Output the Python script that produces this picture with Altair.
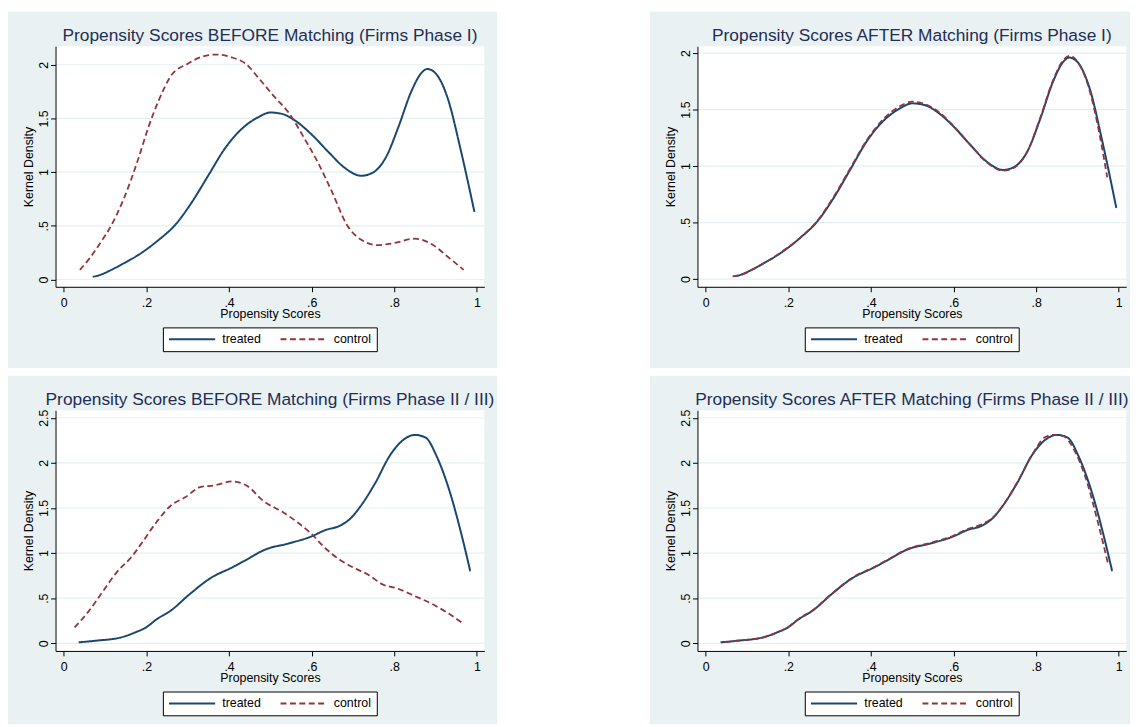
import altair as alt
import pandas as pd

# ---------------- data ----------------
groups = ["treated", "control"]

# Phase I - treated firms (same curve in both Phase I panels)
p1_treated_x = [0.070, 0.09, 0.11, 0.145, 0.185, 0.23, 0.27, 0.31, 0.35, 0.39, 0.43, 0.47, 0.50,
                0.53, 0.56, 0.60, 0.64, 0.68, 0.72, 0.75, 0.78, 0.81, 0.84, 0.865, 0.88, 0.90,
                0.93, 0.96, 0.994]
p1_treated_y = [0.025, 0.045, 0.08, 0.15, 0.24, 0.37, 0.51, 0.72, 0.97, 1.22, 1.40, 1.51, 1.555,
                1.54, 1.48, 1.35, 1.19, 1.04, 0.966, 1.0, 1.14, 1.42, 1.74, 1.92, 1.96, 1.92,
                1.68, 1.22, 0.63]

# Phase I - control firms before matching
p1_ctrl_before_x = [0.039, 0.065, 0.09, 0.11, 0.145, 0.18, 0.205, 0.23, 0.26, 0.30, 0.335, 0.37,
                    0.405, 0.44, 0.475, 0.51, 0.545, 0.58, 0.615, 0.65, 0.685, 0.72, 0.76, 0.80,
                    0.85, 0.89, 0.93, 0.968]
p1_ctrl_before_y = [0.09, 0.21, 0.35, 0.47, 0.75, 1.12, 1.42, 1.67, 1.90, 2.01, 2.075, 2.095,
                    2.07, 2.01, 1.86, 1.70, 1.55, 1.33, 1.09, 0.81, 0.51, 0.37, 0.32, 0.34,
                    0.38, 0.33, 0.21, 0.09]

# Phase I - control firms after matching
p1_ctrl_after_x = [0.065, 0.09, 0.11, 0.145, 0.185, 0.23, 0.27, 0.31, 0.35, 0.39, 0.43, 0.47, 0.50,
                   0.53, 0.56, 0.60, 0.64, 0.68, 0.72, 0.75, 0.78, 0.81, 0.84, 0.865, 0.88, 0.90,
                   0.93, 0.955, 0.972]
p1_ctrl_after_y = [0.025, 0.045, 0.08, 0.15, 0.245, 0.37, 0.515, 0.73, 0.98, 1.23, 1.415, 1.53, 1.57,
                   1.55, 1.49, 1.355, 1.19, 1.035, 0.96, 0.995, 1.14, 1.43, 1.75, 1.935, 1.975, 1.925,
                   1.66, 1.25, 0.90]

# Phase II / III - treated firms
p2_treated_x = [0.036, 0.078, 0.139, 0.173, 0.199, 0.225, 0.26, 0.304, 0.356, 0.408, 0.442, 0.486,
                0.546, 0.598, 0.633, 0.668, 0.694, 0.72, 0.755, 0.789, 0.824, 0.85, 0.876, 0.902,
                0.937, 0.963, 0.984]
p2_treated_y = [0.011, 0.029, 0.066, 0.121, 0.176, 0.267, 0.366, 0.542, 0.725, 0.842, 0.926, 1.036,
                1.109, 1.182, 1.255, 1.303, 1.384, 1.53, 1.786, 2.079, 2.262, 2.31, 2.28, 2.079,
                1.64, 1.2, 0.798]

# Phase II / III - control firms before matching
p2_ctrl_before_x = [0.026, 0.061, 0.095, 0.13, 0.165, 0.191, 0.225, 0.26, 0.295, 0.33, 0.364, 0.408,
                    0.442, 0.486, 0.529, 0.564, 0.598, 0.633, 0.668, 0.703, 0.737, 0.772, 0.807,
                    0.85, 0.893, 0.928, 0.963]
p2_ctrl_before_y = [0.176, 0.359, 0.578, 0.798, 0.963, 1.127, 1.347, 1.53, 1.622, 1.731, 1.75, 1.794,
                    1.75, 1.567, 1.457, 1.347, 1.219, 1.054, 0.926, 0.835, 0.761, 0.652, 0.608,
                    0.523, 0.432, 0.34, 0.231]

# Phase II / III - control firms after matching
p2_ctrl_after_x = [0.045, 0.078, 0.139, 0.173, 0.199, 0.225, 0.26, 0.304, 0.356, 0.408, 0.442, 0.486,
                   0.546, 0.598, 0.633, 0.668, 0.694, 0.72, 0.755, 0.789, 0.82, 0.84, 0.865, 0.89,
                   0.92, 0.95, 0.975]
p2_ctrl_after_y = [0.012, 0.03, 0.066, 0.12, 0.178, 0.27, 0.37, 0.545, 0.73, 0.845, 0.93, 1.04,
                   1.115, 1.19, 1.265, 1.32, 1.39, 1.53, 1.79, 2.08, 2.28, 2.31, 2.30, 2.16,
                   1.83, 1.33, 0.86]

titles = [
    "Propensity Scores BEFORE Matching (Firms Phase I)",
    "Propensity Scores AFTER Matching (Firms Phase I)",
    "Propensity Scores BEFORE Matching (Firms Phase II / III)",
    "Propensity Scores AFTER Matching (Firms Phase II / III)",
]
x_ticks = [0, 0.2, 0.4, 0.6, 0.8, 1]
y_ticks_p1 = [0, 0.5, 1, 1.5, 2]
y_ticks_p2 = [0, 0.5, 1, 1.5, 2, 2.5]

# ---------------- styling ----------------
W, H = 433, 243
BG = "#E9F1F2"
GRID = "#E6EFF1"
NAVY = "#1A476F"
MAROON = "#90353B"
TITLE_C = "#1F2E55"
FONT = "Liberation Sans"
FS = 12.5

LBL = ("datum.value == 0 ? '0' : (datum.value < 1 ? "
       "substring(format(datum.value, '.1f'), 1) : format(datum.value, '~g'))")


def panel(title, tx, ty, cx, cy, ydom, yticks, right=False, bottom=False):
    df = pd.DataFrame(
        {"score": list(tx) + list(cx),
         "dens": list(ty) + list(cy),
         "group": ["treated"] * len(tx) + ["control"] * len(cx)}
    )
    one = pd.DataFrame({"k": [0]})
    xs = alt.Scale(domain=[-0.02, 1.018], nice=False, zero=False)
    ys = alt.Scale(domain=ydom, nice=False, zero=False)

    xaxis = alt.Axis(values=x_ticks, labelExpr=LBL, title="Propensity Scores",
                     tickSize=5, tickColor="black", domainColor="black",
                     labelFont=FONT, labelFontSize=FS, labelColor="black",
                     labelPadding=11, labelBaseline="middle", labelFlush=False,
                     labelOverlap=False, titleFont=FONT, titleFontSize=FS,
                     titleFontWeight="normal", titleColor="black",
                     titleX=W / 2, titleY=27.3, titleBaseline="middle",
                     titleAlign="center", grid=False, zindex=1)
    yaxis = alt.Axis(values=yticks, labelExpr=LBL, title="Kernel Density",
                     tickSize=5, tickColor="black", domainColor="black",
                     labelFont=FONT, labelFontSize=FS, labelColor="black",
                     labelAngle=270, labelAlign="center", labelBaseline="middle",
                     labelPadding=7, labelFlush=False, labelOverlap=False,
                     titleFont=FONT, titleFontSize=FS, titleFontWeight="normal",
                     titleColor="black", titleAngle=270, titleX=-27.5,
                     titleY=H / 2, titleBaseline="middle", titleAlign="center",
                     grid=False, zindex=1)

    bg = alt.Chart(one).mark_rect(color=BG).encode(
        x=alt.value(-48), x2=alt.value(W + (4 if right else 13)),
        y=alt.value(-35), y2=alt.value(H + (74 if bottom else 82)))
    plotbg = alt.Chart(one).mark_rect(color="white").encode(
        x=alt.value(0), x2=alt.value(W), y=alt.value(0), y2=alt.value(H))
    grid = alt.Chart(pd.DataFrame({"dens": yticks})).mark_rule(
        color=GRID, strokeWidth=1.2).encode(y=alt.Y("dens:Q", scale=ys, axis=yaxis))
    ttl = alt.Chart(one).mark_text(
        text=title, font=FONT, fontSize=17.5, color=TITLE_C,
        align="center", baseline="alphabetic").encode(
        x=alt.value(W / 2), y=alt.value(-5.5))

    leg = alt.Legend(title=None, orient="none", legendX=108.4, legendY=284,
                     direction="horizontal", symbolType="stroke", symbolSize=2170,
                     symbolStrokeWidth=2, labelFont=FONT, labelFontSize=FS,
                     labelColor="black", fillColor="white", strokeColor="black",
                     padding=5, clipHeight=13.4, labelOffset=6, columnPadding=18.6,
                     symbolOffset=0, labelLimit=0)
    color = alt.Color("group:N", scale=alt.Scale(domain=groups, range=[NAVY, MAROON]),
                      legend=leg)
    dash = alt.StrokeDash("group:N",
                          scale=alt.Scale(domain=groups, range=[[1, 0], [6, 3.5]]),
                          legend=leg)
    base = alt.Chart(df)
    treated = base.transform_filter(alt.datum.group == "treated").mark_line(
        interpolate="monotone", strokeWidth=2).encode(
        x=alt.X("score:Q", scale=xs, axis=xaxis),
        y=alt.Y("dens:Q", scale=ys, axis=yaxis),
        color=color, strokeDash=dash)
    control = base.transform_filter(alt.datum.group == "control").mark_line(
        interpolate="monotone", strokeWidth=1.8).encode(
        x=alt.X("score:Q", scale=xs, axis=xaxis),
        y=alt.Y("dens:Q", scale=ys, axis=yaxis),
        color=color, strokeDash=dash)
    return alt.layer(bg, plotbg, grid, ttl, treated, control).properties(width=W, height=H)


tl = panel(titles[0], p1_treated_x, p1_treated_y, p1_ctrl_before_x, p1_ctrl_before_y,
           [-0.068, 2.173], y_ticks_p1)
tr = panel(titles[1], p1_treated_x, p1_treated_y, p1_ctrl_after_x, p1_ctrl_after_y,
           [-0.0675, 2.061], y_ticks_p1, right=True)
bl = panel(titles[2], p2_treated_x, p2_treated_y, p2_ctrl_before_x, p2_ctrl_before_y,
           [-0.0845, 2.583], y_ticks_p2, bottom=True)
br = panel(titles[3], p2_treated_x, p2_treated_y, p2_ctrl_after_x, p2_ctrl_after_y,
           [-0.0845, 2.583], y_ticks_p2, right=True, bottom=True)

res = dict(color="independent", strokeDash="independent", x="independent", y="independent")
chart = (alt.ConcatChart(concat=[tl, tr, bl, br], columns=2,
                         spacing={"row": 124.7, "column": 215.2}, bounds="flush")
         .resolve_scale(**res)
         .properties(padding=0, background="white")
         .configure_view(stroke=None))

chart.save("out.html", embed_options={"renderer": "svg", "actions": False})
